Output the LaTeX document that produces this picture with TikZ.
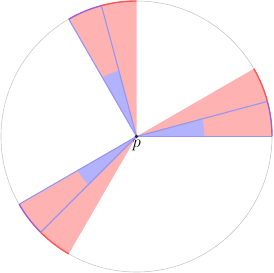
\documentclass[tikz,border=0pt]{standalone}
\usetikzlibrary{calc}
\definecolor{redfill}{RGB}{255,178,178}
\definecolor{bluefill}{RGB}{178,178,255}
\definecolor{blueline}{RGB}{150,150,240}
\definecolor{redarc}{RGB}{255,85,85}
\definecolor{purplearc}{RGB}{165,95,205}
\definecolor{circgray}{RGB}{200,200,200}
\definecolor{dotcol}{RGB}{30,30,80}
\begin{document}
\begin{tikzpicture}[x=1pt,y=1pt,
  redsector/.style={fill=redfill},
  bluesector/.style={fill=bluefill},
  ray/.style={draw=blueline,line width=1.1pt},
  redrim/.style={draw=redarc,line width=1.4pt},
  bluerim/.style={draw=purplearc,line width=1.4pt},
  rim/.style={draw=circgray,line width=0.6pt},
  dot/.style={circle,fill=dotcol,inner sep=0pt,minimum size=3.6pt}]
\useasboundingbox (0,0) rectangle (273,273);
\def\R{135.5}
\def\r{68}
\coordinate (c) at (136.5,136.5);
% red sectors
\foreach \a/\b in {90/120, 0/30, 210/240}{
  \fill[redsector] (c) -- +(\a:\R) arc[start angle=\a,end angle=\b,radius=\R] -- cycle;
}
% blue sectors
\foreach \a/\b in {105/120, 0/15, 210/225}{
  \fill[bluesector] (c) -- +(\a:\r) arc[start angle=\a,end angle=\b,radius=\r] -- cycle;
}
% circle
\draw[rim] (c) circle[radius=\R];
% rays
\foreach \a in {105,120,0,15,210,225}{
  \coordinate (e\a) at ($(c)+(\a:\R)$);
  \draw[ray] (c) -- (e\a);
}
% red arcs
\foreach \a/\b in {90/105, 15/30, 225/240}{
  \draw[redrim] ($(c)+(\a:\R)$) arc[start angle=\a,end angle=\b,radius=\R];
}
% purple arcs
\foreach \a/\b in {105/120, 0/15, 210/225}{
  \draw[bluerim] ($(c)+(\a:\R)$) arc[start angle=\a,end angle=\b,radius=\R];
}
\node[dot] (p) at (c) {};
\node[anchor=north,inner sep=0pt,font=\fontsize{16}{18}\selectfont] (plabel) at ($(p.south)+(0,-1.5)$) {$p$};
\end{tikzpicture}
\end{document}
